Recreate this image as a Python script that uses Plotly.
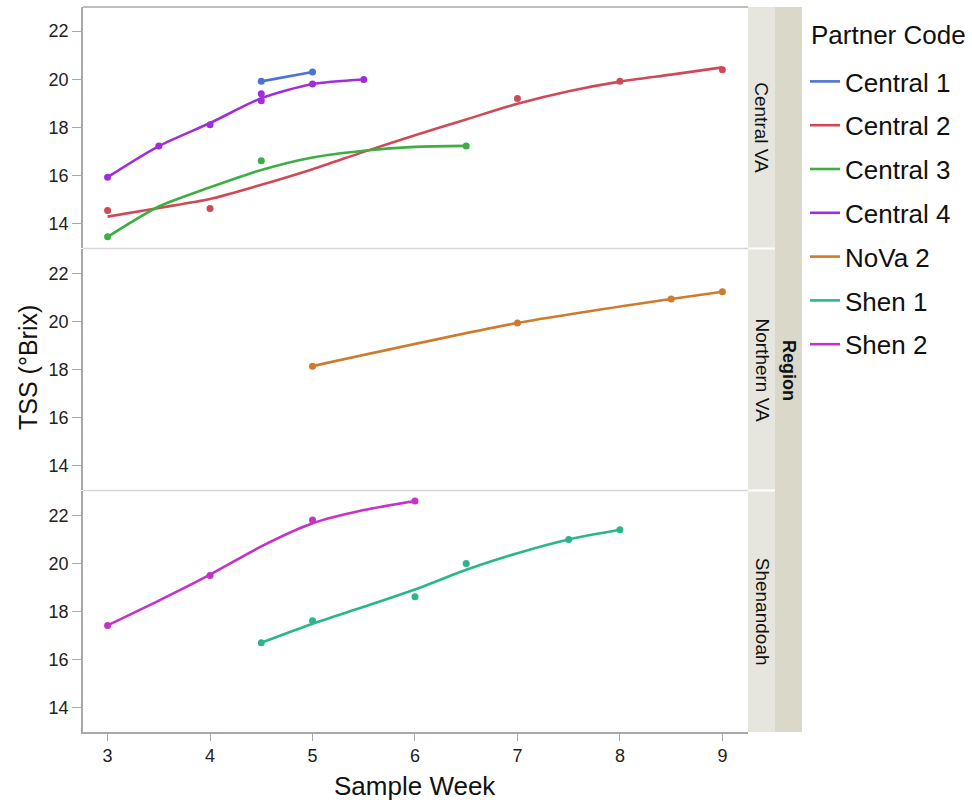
import plotly.graph_objects as go
from plotly.subplots import make_subplots

# ---------------- data ----------------
regions = ["Central VA", "Northern VA", "Shenandoah"]
partners = ["Central 1", "Central 2", "Central 3", "Central 4", "NoVa 2", "Shen 1", "Shen 2"]
partner_region = {"Central 1": 1, "Central 2": 1, "Central 3": 1, "Central 4": 1,
                  "NoVa 2": 2, "Shen 1": 3, "Shen 2": 3}
colors = {"Central 1": "#4A72D8", "Central 2": "#CF4A58", "Central 3": "#3DAF42",
          "Central 4": "#A02FDB", "NoVa 2": "#CF7A2C", "Shen 1": "#2AB68D", "Shen 2": "#C632C7"}

# observed points (Sample Week, TSS)
c1_week = [4.5, 5]
c1_tss = [19.91, 20.30]
c2_week = [3, 4, 7, 8, 9]
c2_tss = [14.54, 14.63, 19.20, 19.91, 20.39]
c3_week = [3, 4.5, 6.5]
c3_tss = [13.45, 16.61, 17.22]
c4_week = [3, 3.5, 4, 4.5, 4.5, 5, 5.5]
c4_tss = [15.93, 17.22, 18.11, 19.40, 19.10, 19.80, 19.99]
n2_week = [5, 7, 8.5, 9]
n2_tss = [18.14, 19.93, 20.93, 21.23]
s1_week = [4.5, 5, 6, 6.5, 7.5, 8]
s1_tss = [16.71, 17.62, 18.62, 20.00, 21.00, 21.40]
s2_week = [3, 4, 5, 6]
s2_tss = [17.43, 19.50, 21.81, 22.60]

# smoother curves
c1_fit_week = [4.5, 5]
c1_fit = [19.91, 20.30]
c2_fit_week = [3, 3.5, 4, 4.5, 5, 5.5, 6, 6.5, 7, 7.5, 8, 8.5, 9]
c2_fit = [14.29, 14.65, 15.02, 15.61, 16.26, 16.98, 17.67, 18.33, 18.98, 19.50, 19.90, 20.19, 20.49]
c3_fit_week = [3, 3.5, 4, 4.5, 5, 5.5, 6, 6.5]
c3_fit = [13.45, 14.71, 15.51, 16.23, 16.75, 17.03, 17.19, 17.23]
c4_fit_week = [3, 3.5, 4, 4.5, 5, 5.5]
c4_fit = [15.93, 17.22, 18.18, 19.21, 19.80, 19.99]
n2_fit_week = [5, 7, 8.5, 9]
n2_fit = [18.14, 19.93, 20.93, 21.23]
s1_fit_week = [4.5, 5, 5.5, 6, 6.5, 7, 7.5, 8]
s1_fit = [16.71, 17.50, 18.20, 18.92, 19.74, 20.43, 21.00, 21.40]
s2_fit_week = [3, 3.5, 4, 4.5, 5, 5.5, 6]
s2_fit = [17.43, 18.46, 19.54, 20.71, 21.67, 22.22, 22.60]

points = {"Central 1": (c1_week, c1_tss), "Central 2": (c2_week, c2_tss),
          "Central 3": (c3_week, c3_tss), "Central 4": (c4_week, c4_tss),
          "NoVa 2": (n2_week, n2_tss), "Shen 1": (s1_week, s1_tss), "Shen 2": (s2_week, s2_tss)}
fits = {"Central 1": (c1_fit_week, c1_fit), "Central 2": (c2_fit_week, c2_fit),
        "Central 3": (c3_fit_week, c3_fit), "Central 4": (c4_fit_week, c4_fit),
        "NoVa 2": (n2_fit_week, n2_fit), "Shen 1": (s1_fit_week, s1_fit), "Shen 2": (s2_fit_week, s2_fit)}

x_ticks = [3, 4, 5, 6, 7, 8, 9]
y_ticks = [14, 16, 18, 20, 22]

FONT = "Liberation Sans, Arial, sans-serif"

W, H = 972, 803
ML, MR, MT, MB = 83, 224, 7, 71
PW = W - ML - MR
PH = H - MT - MB

fig = make_subplots(rows=3, cols=1, shared_xaxes=True, vertical_spacing=1.5 / PH)

for p in partners:
    row = partner_region[p]
    fx, fy = fits[p]
    fig.add_trace(go.Scatter(x=fx, y=fy, mode="lines", name=p, legendgroup=p,
                             line=dict(color=colors[p], width=2.6, shape="spline", smoothing=0.7),
                             showlegend=True, hoverinfo="skip"), row=row, col=1)
    px, py = points[p]
    fig.add_trace(go.Scatter(x=px, y=py, mode="markers", name=p, legendgroup=p,
                             marker=dict(color=colors[p], size=7),
                             showlegend=False), row=row, col=1)

axis_gray = "#A8A8A8"
for r in range(1, 4):
    fig.update_yaxes(range=[13, 23], tickvals=y_ticks, showgrid=False, zeroline=False,
                     showline=True, linecolor=axis_gray, linewidth=1.5,
                     ticks="outside", ticklen=9, tickcolor=axis_gray, tickwidth=1,
                     tickfont=dict(family=FONT, size=18, color="#222"), row=r, col=1)
    fig.update_xaxes(range=[2.76, 9.25], tickvals=x_ticks, showgrid=False, zeroline=False,
                     showline=(r == 3), linecolor=axis_gray, linewidth=1.5,
                     ticks="outside" if r == 3 else "", ticklen=7, tickcolor=axis_gray, tickwidth=1,
                     showticklabels=(r == 3),
                     tickfont=dict(family=FONT, size=18, color="#222"), row=r, col=1)

shapes = []
def py_(pix):
    return 1 - (pix - MT) / PH
def px_(pix):
    return (pix - ML) / PW

shapes.append(dict(type="line", xref="paper", yref="paper", x0=0, x1=1, y0=1, y1=1,
                   line=dict(color=axis_gray, width=1.5)))
for sep in [248.5, 490.5]:
    shapes.append(dict(type="line", xref="paper", yref="paper", x0=0, x1=1,
                       y0=py_(sep), y1=py_(sep), line=dict(color="#D6D6D6", width=1.5)))
shapes.append(dict(type="rect", xref="paper", yref="paper", x0=px_(775), x1=px_(802),
                   y0=0, y1=1, fillcolor="#D9D8C9", line=dict(width=0), layer="below"))
panel_bounds = [(7, 247.5), (249.5, 489.5), (491.5, 732)]
for (t, b) in panel_bounds:
    shapes.append(dict(type="rect", xref="paper", yref="paper", x0=px_(748), x1=px_(775),
                       y0=py_(b), y1=py_(t), fillcolor="#E6E6DE", line=dict(width=0), layer="below"))

annotations = []
for name, (t, b) in zip(regions, panel_bounds):
    annotations.append(dict(text=name, xref="paper", yref="paper", x=px_(762), y=py_((t + b) / 2),
                            showarrow=False, textangle=90, xanchor="center", yanchor="middle",
                            font=dict(family=FONT, size=19, color="#111")))
annotations.append(dict(text="<b>Region</b>", xref="paper", yref="paper", x=px_(789), y=py_(370),
                        showarrow=False, textangle=90, xanchor="center", yanchor="middle",
                        font=dict(family=FONT, size=18, color="#111")))
annotations.append(dict(text="TSS (°Brix)", xref="paper", yref="paper", x=px_(28), y=py_(368),
                        showarrow=False, textangle=-90, xanchor="center", yanchor="middle",
                        font=dict(family=FONT, size=25, color="#111")))
annotations.append(dict(text="Sample Week", xref="paper", yref="paper", x=px_(415), y=py_(786),
                        showarrow=False, xanchor="center", yanchor="middle",
                        font=dict(family=FONT, size=26, color="#111")))
annotations.append(dict(text="Partner Code", xref="paper", yref="paper", x=px_(809), y=py_(35),
                        showarrow=False, xanchor="left", yanchor="middle",
                        font=dict(family=FONT, size=26, color="#111")))

fig.update_layout(
    width=W, height=H,
    margin=dict(l=ML, r=MR, t=MT, b=MB),
    paper_bgcolor="white", plot_bgcolor="white",
    shapes=shapes, annotations=annotations,
    legend=dict(x=px_(805), y=py_(58), xanchor="left", yanchor="top",
                font=dict(family=FONT, size=26, color="#111"),
                itemwidth=30, tracegroupgap=7, bgcolor="rgba(0,0,0,0)"),
    showlegend=True,
)

fig.write_html("out.html")
